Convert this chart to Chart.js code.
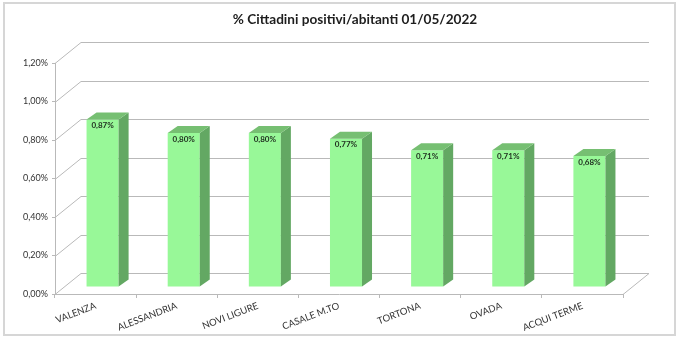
<!DOCTYPE html>
<html>
<head>
<meta charset="utf-8">
<script src="https://cdn.jsdelivr.net/npm/chart.js@4/dist/chart.umd.min.js"></script>
<style>
  html, body { margin: 0; padding: 0; background: #fff; }
</style>
</head>
<body>
<canvas id="chart" width="680" height="340"></canvas>
<script>
// --- data ---
const comuni = ['VALENZA', 'ALESSANDRIA', 'NOVI LIGURE', 'CASALE M.TO', 'TORTONA', 'OVADA', 'ACQUI TERME'];
const positiviPct = [0.87, 0.80, 0.80, 0.77, 0.71, 0.71, 0.68];
const titolo = '% Cittadini positivi/abitanti 01/05/2022';
const yMax = 1.2;
const yStep = 0.2;

// --- look ---
const FONT = 'Lato, "Open Sans", sans-serif';
const WALL = { x: 26, y: 21 };      // back wall offset (fake 3D)
const BAR_SHIFT = { x: 7, y: 7 };   // bars stand a bit behind the front edge
const BAR_SIDE = { x: 10, y: 7 };   // depth of each bar
const GRID_COLOR = '#b9b9b9';
const TEXT_COLOR = '#333333';

const fmtPct = v => Number(v).toFixed(2).replace('.', ',') + '%';

// outer frame + title (the excel title is not centred on the plot)
const frame = {
    id: 'frame',
    beforeDraw(chart) {
        const ctx = chart.ctx;
        ctx.save();
        ctx.strokeStyle = '#d6d6d6';
        ctx.lineWidth = 2;
        ctx.strokeRect(4, 3, 671, 332);
        ctx.fillStyle = '#1e1e1e';
        ctx.font = 'bold 13.6px ' + FONT;
        ctx.textAlign = 'center';
        ctx.textBaseline = 'middle';
        ctx.fillText(titolo, 355, 20);
        ctx.restore();
    }
};

// back wall gridlines + floor, then shift the bars
const wall3d = {
    id: 'wall3d',
    beforeDatasetsDraw(chart) {
        const ctx = chart.ctx;
        const a = chart.chartArea;
        const ys = chart.scales.y;
        ctx.save();
        ctx.strokeStyle = GRID_COLOR;
        ctx.lineWidth = 1;
        ys.ticks.forEach(t => {
            const y = Math.round(ys.getPixelForValue(t.value)) + 0.5;
            ctx.beginPath();
            ctx.moveTo(a.left, y);
            ctx.lineTo(a.left + WALL.x, y - WALL.y);
            ctx.lineTo(a.right + WALL.x, y - WALL.y);
            ctx.stroke();
        });
        // floor right edge
        const yb = Math.round(a.bottom) + 0.5;
        ctx.beginPath();
        ctx.moveTo(a.right, yb);
        ctx.lineTo(a.right + WALL.x, yb - WALL.y);
        ctx.stroke();
        ctx.restore();

        ctx.save();
        ctx.translate(BAR_SHIFT.x, -BAR_SHIFT.y);
    },
    afterDatasetsDraw(chart) {
        const ctx = chart.ctx;
        const meta = chart.getDatasetMeta(0);
        meta.data.forEach((bar, i) => {
            const { x, y, base, width } = bar.getProps(['x', 'y', 'base', 'width'], true);
            const l = x - width / 2, r = x + width / 2;
            // side face
            ctx.beginPath();
            ctx.moveTo(r, y);
            ctx.lineTo(r + BAR_SIDE.x, y - BAR_SIDE.y);
            ctx.lineTo(r + BAR_SIDE.x, base - BAR_SIDE.y);
            ctx.lineTo(r, base);
            ctx.closePath();
            ctx.fillStyle = '#63a863';
            ctx.fill();
            // top face
            ctx.beginPath();
            ctx.moveTo(l, y);
            ctx.lineTo(l + BAR_SIDE.x, y - BAR_SIDE.y);
            ctx.lineTo(r + BAR_SIDE.x, y - BAR_SIDE.y);
            ctx.lineTo(r, y);
            ctx.closePath();
            ctx.fillStyle = '#76bf72';
            ctx.fill();
            // value label
            ctx.fillStyle = '#1f2e1f';
            ctx.font = 'bold 8px ' + FONT;
            ctx.textAlign = 'center';
            ctx.textBaseline = 'top';
            ctx.fillText(fmtPct(positiviPct[i]), x, y + 2);
        });
        ctx.restore();
    }
};

new Chart(document.getElementById('chart'), {
    type: 'bar',
    data: {
        labels: comuni,
        datasets: [{
            data: positiviPct,
            backgroundColor: '#98f898',
            borderWidth: 0,
            barPercentage: 0.395,
            categoryPercentage: 1,
            clip: false
        }]
    },
    options: {
        responsive: false,
        animation: false,
        layout: { padding: { left: 0, right: 57, top: 63, bottom: 6 } },
        scales: {
            x: {
                grid: { offset: true, drawOnChartArea: false, tickLength: 4, color: GRID_COLOR },
                border: { color: GRID_COLOR },
                ticks: {
                    color: TEXT_COLOR,
                    font: { family: FONT, size: 9.5 },
                    minRotation: 21,
                    maxRotation: 21,
                    autoSkip: false,
                    padding: 2
                },
                afterFit: s => { s.height = 40; }
            },
            y: {
                min: 0,
                max: yMax,
                grid: { drawOnChartArea: false, tickLength: 3, color: GRID_COLOR },
                border: { color: GRID_COLOR },
                ticks: {
                    stepSize: yStep,
                    callback: v => fmtPct(v),
                    color: TEXT_COLOR,
                    font: { family: FONT, size: 9 },
                    padding: 4
                },
                afterFit: s => { s.width = 55; }
            }
        },
        plugins: {
            legend: { display: false },
            tooltip: { enabled: false },
            title: { display: false }
        }
    },
    plugins: [frame, wall3d]
});
</script>
</body>
</html>
